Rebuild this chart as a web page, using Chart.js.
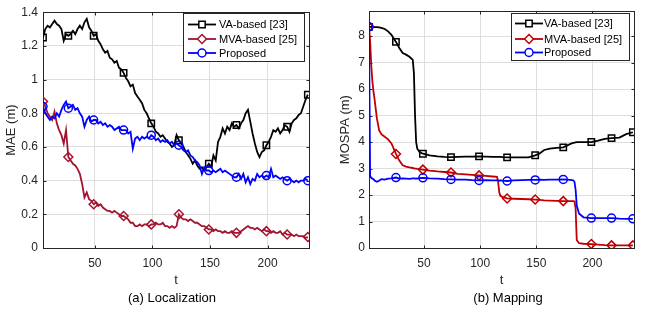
<!DOCTYPE html>
<html>
<head>
<meta charset="utf-8">
<script src="https://cdn.jsdelivr.net/npm/chart.js@4.4.0/dist/chart.umd.min.js"></script>
<style>
  body { margin: 0; background: #fff; }
  #wrap { width: 652px; height: 314px; display: flex; }
  canvas { display: block; }
</style>
</head>
<body>
<div id="wrap">
  <canvas id="loc" width="326" height="314"></canvas>
  <canvas id="map" width="326" height="314"></canvas>
</div>
<script>
const seriesNames = ["VA-based [23]", "MVA-based [25]", "Proposed"];
const xTicks = [50, 100, 150, 200];

// (a) Localization, MAE (m)
const locT = [
  5, 7, 9, 11, 13, 15, 17, 19, 21, 23,
  25, 27, 29, 31, 33, 35, 37, 39, 41, 43,
  45, 47, 49, 51, 53, 55, 57, 59, 61, 63,
  65, 67, 69, 71, 73, 75, 77, 79, 81, 83,
  85, 87, 89, 91, 93, 95, 97, 99, 101, 103,
  105, 107, 109, 111, 113, 115, 117, 119, 121, 123,
  125, 127, 129, 131, 133, 135, 137, 139, 141, 143,
  145, 147, 149, 151, 153, 155, 157, 159, 161, 163,
  165, 167, 169, 171, 173, 175, 177, 179, 181, 183,
  185, 187, 189, 191, 193, 195, 197, 199, 201, 203,
  205, 207, 209, 211, 213, 215, 217, 219, 221, 223,
  225, 227, 229, 231, 233, 235
];
const locVA = [
  1.25, 1.30, 1.32, 1.31, 1.33, 1.35, 1.33, 1.32, 1.30, 1.23,
  1.27, 1.26, 1.27, 1.29, 1.27, 1.30, 1.32, 1.30, 1.34, 1.36,
  1.31, 1.29, 1.26, 1.27, 1.23, 1.21, 1.18, 1.16, 1.17, 1.13,
  1.12, 1.10, 1.11, 1.07, 1.06, 1.04, 1.01, 0.99, 0.96, 0.97,
  0.92, 0.90, 0.88, 0.86, 0.82, 0.80, 0.77, 0.74, 0.72, 0.69,
  0.68, 0.66, 0.67, 0.65, 0.63, 0.62, 0.60, 0.61, 0.67, 0.64,
  0.62, 0.60, 0.57, 0.55, 0.53, 0.50, 0.52, 0.49, 0.47, 0.48,
  0.46, 0.48, 0.50, 0.48, 0.55, 0.52, 0.63, 0.66, 0.71, 0.68,
  0.72, 0.70, 0.74, 0.72, 0.73, 0.71, 0.74, 0.76, 0.80, 0.82,
  0.75, 0.68, 0.62, 0.57, 0.54, 0.57, 0.58, 0.61, 0.63, 0.66,
  0.70, 0.69, 0.71, 0.68, 0.70, 0.73, 0.72, 0.69, 0.74, 0.76,
  0.77, 0.79, 0.80, 0.84, 0.88, 0.91
];
const locMVA = [
  0.87, 0.84, 0.80, 0.78, 0.76, 0.81, 0.74, 0.70, 0.67, 0.62,
  0.70, 0.54, 0.52, 0.50, 0.49, 0.47, 0.44, 0.38, 0.30, 0.33,
  0.29, 0.28, 0.26, 0.27, 0.25, 0.26, 0.24, 0.23, 0.22, 0.22,
  0.21, 0.22, 0.21, 0.20, 0.19, 0.19, 0.18, 0.17, 0.15, 0.15,
  0.13, 0.13, 0.14, 0.13, 0.14, 0.14, 0.13, 0.14, 0.14, 0.15,
  0.14, 0.14, 0.15, 0.13, 0.13, 0.12, 0.13, 0.12, 0.13, 0.20,
  0.18, 0.17, 0.17, 0.16, 0.17, 0.16, 0.15, 0.15, 0.14, 0.13,
  0.13, 0.12, 0.11, 0.11, 0.10, 0.11, 0.10, 0.10, 0.09, 0.10,
  0.09, 0.09, 0.10, 0.09, 0.09, 0.09, 0.10, 0.11, 0.12, 0.13,
  0.12, 0.12, 0.11, 0.12, 0.11, 0.10, 0.11, 0.10, 0.10, 0.09,
  0.10, 0.09, 0.09, 0.10, 0.08, 0.09, 0.08, 0.08, 0.08, 0.07,
  0.08, 0.07, 0.07, 0.07, 0.06, 0.065
];
const locProp = [
  0.84, 0.80, 0.78, 0.76, 0.78, 0.77, 0.80, 0.78, 0.82, 0.85,
  0.87, 0.83, 0.84, 0.85, 0.82, 0.83, 0.80, 0.78, 0.72, 0.76,
  0.78, 0.75, 0.76, 0.76, 0.74, 0.75, 0.73, 0.74, 0.72, 0.73,
  0.72, 0.70, 0.71, 0.72, 0.70, 0.70, 0.70, 0.68, 0.69, 0.59,
  0.65, 0.66, 0.64, 0.66, 0.65, 0.66, 0.65, 0.67, 0.66, 0.64,
  0.65, 0.63, 0.64, 0.63, 0.64, 0.62, 0.63, 0.61, 0.62, 0.61,
  0.60, 0.58, 0.57, 0.58, 0.55, 0.54, 0.52, 0.51, 0.49, 0.44,
  0.48, 0.46, 0.46, 0.45, 0.46, 0.45, 0.46, 0.47, 0.45, 0.46,
  0.45, 0.44, 0.43, 0.42, 0.42, 0.44, 0.41, 0.44, 0.39, 0.42,
  0.38, 0.41, 0.40, 0.44, 0.42, 0.43, 0.42, 0.43, 0.42, 0.47,
  0.42, 0.43, 0.42, 0.41, 0.42, 0.41, 0.40, 0.41, 0.40, 0.39,
  0.40, 0.39, 0.40, 0.40, 0.41, 0.40
];
const locMarkers = [5, 27, 49, 75, 99, 123, 149, 173, 199, 217, 235];

// (b) Mapping, MOSPA (m)
const mapT = [
  1, 2, 3, 4, 5, 6, 8, 10, 12, 15,
  18, 21, 25, 28, 31, 34, 37, 40, 41, 42,
  43, 44, 46, 49, 55, 62, 68, 74, 80, 87,
  93, 99, 105, 111, 115, 116, 117, 118, 120, 124,
  130, 137, 143, 149, 153, 157, 162, 168, 174, 180,
  182, 183, 184, 185, 186, 188, 192, 199, 205, 211,
  217, 224, 230, 236
];
const mapVA = [
  8.35, 8.35, 8.35, 8.35, 8.34, 8.34, 8.34, 8.33, 8.31, 8.27,
  8.18, 8.05, 7.78, 7.55, 7.36, 7.30, 7.22, 7.10, 6.60, 5.00,
  4.00, 3.75, 3.62, 3.56, 3.50, 3.46, 3.44, 3.43, 3.44, 3.45,
  3.45, 3.46, 3.45, 3.44, 3.44, 3.44, 3.44, 3.44, 3.43, 3.42,
  3.42, 3.42, 3.42, 3.50, 3.57, 3.70, 3.75, 3.78, 3.80, 3.92,
  3.96, 3.97, 3.98, 3.99, 4.00, 4.00, 4.00, 4.00, 4.05, 4.12,
  4.15, 4.17, 4.30, 4.37
];
const mapMVA = [
  8.35, 7.80, 6.90, 6.30, 5.90, 5.60, 4.90, 4.45, 4.30, 4.20,
  4.10, 3.95, 3.55, 3.30, 3.12, 3.07, 3.04, 3.02, 3.01, 3.00,
  3.00, 2.99, 2.98, 2.96, 2.92, 2.89, 2.87, 2.85, 2.80, 2.78,
  2.76, 2.74, 2.72, 2.70, 2.69, 2.50, 2.10, 1.97, 1.92, 1.87,
  1.86, 1.85, 1.84, 1.83, 1.82, 1.80, 1.79, 1.78, 1.77, 1.77,
  1.77, 1.77, 1.76, 1.50, 0.30, 0.18, 0.16, 0.15, 0.13, 0.11,
  0.10, 0.10, 0.10, 0.10
];
const mapProp = [
  8.35, 2.72, 2.65, 2.62, 2.60, 2.55, 2.50, 2.54, 2.60, 2.58,
  2.62, 2.63, 2.66, 2.62, 2.63, 2.62, 2.61, 2.63, 2.63, 2.62,
  2.63, 2.62, 2.64, 2.65, 2.63, 2.62, 2.60, 2.59, 2.58, 2.58,
  2.56, 2.55, 2.56, 2.55, 2.55, 2.55, 2.54, 2.55, 2.54, 2.53,
  2.55, 2.56, 2.57, 2.57, 2.58, 2.57, 2.58, 2.58, 2.59, 2.57,
  2.56, 2.55, 2.50, 2.20, 1.60, 1.30, 1.16, 1.13, 1.13, 1.13,
  1.13, 1.11, 1.10, 1.10
];
const mapMarkers = [1, 25, 49, 74, 99, 124, 149, 174, 199, 217, 236];

const pointStyles = ["rect", "rectRot", "circle"];
const pointSizes = [4.5, 4.5, 4];
const FONT = "'Liberation Sans', Arial, Helvetica, sans-serif";
Chart.defaults.font.family = FONT;
Chart.defaults.color = "#262626";

const framePlugin = {
  id: "frame",
  beforeDatasetsDraw(chart) {
    const { ctx, chartArea: a, scales } = chart;
    const L = Math.round(a.left) + 0.5, R = Math.round(a.right) + 0.5;
    const T = Math.round(a.top) + 0.5, B = Math.round(a.bottom) + 0.5;
    ctx.save();
    ctx.strokeStyle = "#262626";
    ctx.lineWidth = 1;
    ctx.strokeRect(L, T, R - L, B - T);
    ctx.beginPath();
    scales.x.ticks.forEach(t => {
      const x = Math.round(scales.x.getPixelForValue(t.value)) + 0.5;
      ctx.moveTo(x, B); ctx.lineTo(x, B - 3);
      ctx.moveTo(x, T); ctx.lineTo(x, T + 3);
    });
    scales.y.ticks.forEach(t => {
      const y = Math.round(scales.y.getPixelForValue(t.value)) + 0.5;
      ctx.moveTo(L, y); ctx.lineTo(L + 3, y);
      ctx.moveTo(R, y); ctx.lineTo(R - 3, y);
    });
    ctx.stroke();
    ctx.restore();
  },
  afterDraw(chart, args, o) {
    const ctx = chart.ctx;
    ctx.save();
    // legend box
    ctx.fillStyle = "#fff";
    ctx.fillRect(o.box[0], o.box[1], o.box[2], o.box[3]);
    ctx.strokeStyle = "#262626";
    ctx.lineWidth = 1;
    ctx.strokeRect(o.box[0] + 0.5, o.box[1] + 0.5, o.box[2], o.box[3]);
    chart.data.datasets.forEach((ds, i) => {
      const y = o.rows[i];
      ctx.strokeStyle = ds.borderColor;
      ctx.lineWidth = ds.borderWidth;
      ctx.beginPath();
      ctx.moveTo(o.line[0], y);
      ctx.lineTo(o.line[1], y);
      ctx.stroke();
      ctx.fillStyle = "#fff";
      ctx.lineWidth = 1.5;
      Chart.helpers.drawPoint(ctx, { pointStyle: pointStyles[i], radius: pointSizes[i], borderWidth: 1.5, rotation: 0 },
        (o.line[0] + o.line[1]) / 2, y);
      ctx.fillStyle = "#000";
      ctx.font = "11px " + FONT;
      ctx.textBaseline = "middle";
      ctx.textAlign = "left";
      ctx.fillText(ds.label, o.textX, y + 0.5);
    });
    // caption under the axis
    ctx.fillStyle = "#000";
    ctx.font = "13px " + FONT;
    ctx.textAlign = "center";
    ctx.textBaseline = "middle";
    ctx.fillText(o.caption, o.captionX, o.captionY);
    ctx.restore();
  }
};

function makeChart(id, cfg) {
  return new Chart(document.getElementById(id), {
    type: "line",
    data: {
      datasets: cfg.series.map((s, i) => ({
        label: seriesNames[i],
        data: cfg.t.map((t, j) => ({ x: t, y: s[j] })),
        borderColor: cfg.colors[i],
        borderWidth: 1.8,
        order: 2 - i,
        tension: 0,
        pointStyle: pointStyles[i],
        pointRadius: c => (c.raw && cfg.markers.includes(c.raw.x)) ? pointSizes[i] : 0,
        pointBorderWidth: 1.5,
        pointBorderColor: cfg.colors[i],
        pointBackgroundColor: "rgba(255,255,255,0)"
      }))
    },
    options: {
      responsive: false,
      animation: false,
      events: [],
      layout: { padding: cfg.pad },
      plugins: {
        legend: { display: false },
        tooltip: { enabled: false },
        frame: cfg.frame
      },
      scales: {
        x: {
          type: "linear",
          min: cfg.xMin,
          max: cfg.xMax,
          afterBuildTicks: s => { s.ticks = xTicks.map(v => ({ value: v })); },
          afterFit: s => { s.height = 42; },
          border: { display: false },
          grid: { color: "#dedede", drawTicks: false },
          ticks: { padding: 8, font: { size: 12 } },
          title: { display: true, text: "t", font: { size: 13 }, padding: { top: 0, bottom: 2 } }
        },
        y: {
          min: 0,
          max: cfg.yMax,
          afterBuildTicks: s => { s.ticks = s.ticks.filter(t => cfg.yTicks.includes(+t.value.toFixed(1))); },
          afterFit: s => { s.width = 43; },
          border: { display: false },
          grid: { color: "#dedede", drawTicks: false },
          ticks: { stepSize: cfg.yStep, padding: cfg.yPad, font: { size: 12 },
                   callback: v => String(+v.toFixed(1)) },
          title: { display: true, text: cfg.yTitle, font: { size: 13 }, padding: { top: cfg.yTitlePad, bottom: 0 } }
        }
      }
    },
    plugins: [framePlugin]
  });
}

makeChart("loc", {
  t: locT,
  series: [locVA, locMVA, locProp],
  colors: ["#000000", "#a2142f", "#0000ff"],
  markers: locMarkers,
  xMin: 5, xMax: 236,
  yMax: 1.4, yStep: 0.2, yTicks: [0, 0.2, 0.4, 0.6, 0.8, 1, 1.2, 1.4],
  yPad: 5, yTitle: "MAE (m)", yTitlePad: 4,
  pad: { left: 0, top: 9, right: 17, bottom: 24 },
  frame: { box: [183, 13, 121, 48], rows: [24.5, 39, 53], line: [188, 216], textX: 219,
           caption: "(a) Localization", captionX: 172, captionY: 298 }
});

makeChart("map", {
  t: mapT,
  series: [mapVA, mapMVA, mapProp],
  colors: ["#000000", "#c00000", "#0000ff"],
  markers: mapMarkers,
  xMin: 1, xMax: 237,
  yMax: 8.94, yStep: 1, yTicks: [0, 1, 2, 3, 4, 5, 6, 7, 8],
  yPad: 4, yTitle: "MOSPA (m)", yTitlePad: 12,
  pad: { left: 0, top: 8, right: 18, bottom: 24 },
  frame: { box: [185, 13, 118, 47], rows: [23.5, 39, 52.5], line: [189, 217], textX: 218,
           caption: "(b) Mapping", captionX: 182, captionY: 298 }
});
</script>
</body>
</html>
